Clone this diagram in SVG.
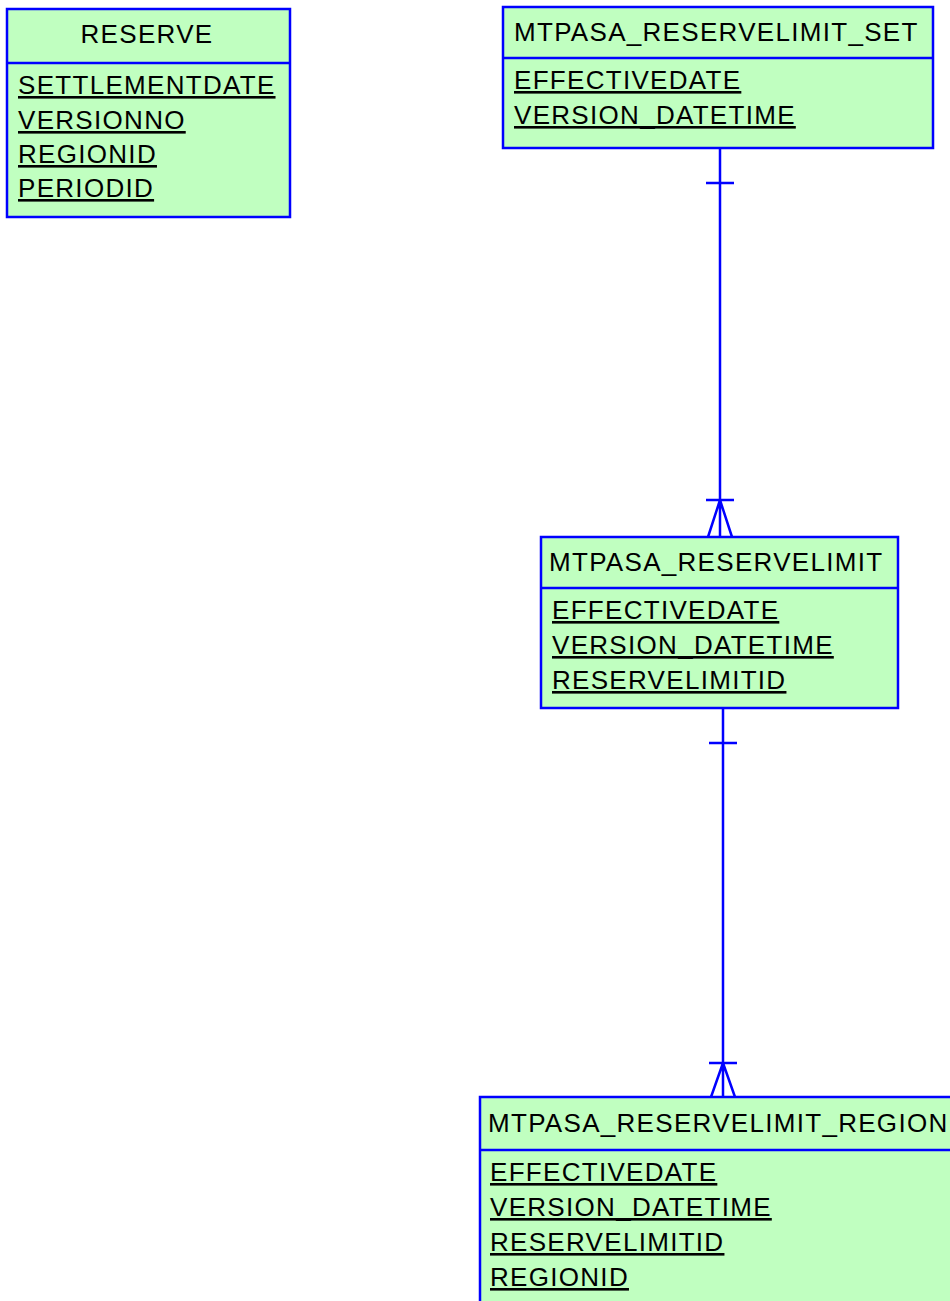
<svg xmlns="http://www.w3.org/2000/svg" width="950" height="1301" viewBox="0 0 950 1301">
<style>
.box{fill:#c0ffc0;stroke:#0000ff;stroke-width:2.5}
.div{stroke:#0000ff;stroke-width:2.5}
.t{font-family:"Liberation Sans",Arial,sans-serif;font-size:26px;fill:#000;letter-spacing:1.3px}
.a{text-decoration:underline}
.c{stroke:#0000ff;stroke-width:2.5;fill:none}
</style>
<rect width="950" height="1301" fill="#fff"/>
<g id="connectors">
<path class="c" d="M720 148V537M706 183H734M706 500H734M720 500L708 537M720 500L732 537"/>
<path class="c" d="M723 708V1097M709 743H737M709 1063H737M723 1063L711 1097M723 1063L735 1097"/>
</g>
<g id="RESERVE">
<rect class="box" x="7" y="9" width="283" height="208"/>
<line class="div" x1="7" y1="63" x2="290" y2="63"/>
<text class="t" x="147" y="43" text-anchor="middle">RESERVE</text>
<text class="t a" x="18" y="94">SETTLEMENTDATE</text>
<text class="t a" x="18" y="129">VERSIONNO</text>
<text class="t a" x="18" y="163">REGIONID</text>
<text class="t a" x="18" y="197">PERIODID</text>
</g>
<g id="MTPASA_RESERVELIMIT_SET">
<rect class="box" x="503" y="7" width="430" height="141"/>
<line class="div" x1="503" y1="58" x2="933" y2="58"/>
<text class="t" x="514" y="41">MTPASA_RESERVELIMIT_SET</text>
<text class="t a" x="514" y="89">EFFECTIVEDATE</text>
<text class="t a" x="514" y="124">VERSION_DATETIME</text>
</g>
<g id="MTPASA_RESERVELIMIT">
<rect class="box" x="541" y="537" width="357" height="171"/>
<line class="div" x1="541" y1="588" x2="898" y2="588"/>
<text class="t" x="549" y="571">MTPASA_RESERVELIMIT</text>
<text class="t a" x="552" y="619">EFFECTIVEDATE</text>
<text class="t a" x="552" y="654">VERSION_DATETIME</text>
<text class="t a" x="552" y="689">RESERVELIMITID</text>
</g>
<g id="MTPASA_RESERVELIMIT_REGION">
<rect class="box" x="480" y="1097" width="480" height="220"/>
<line class="div" x1="480" y1="1150" x2="960" y2="1150"/>
<text class="t" x="488" y="1132">MTPASA_RESERVELIMIT_REGION</text>
<text class="t a" x="490" y="1181">EFFECTIVEDATE</text>
<text class="t a" x="490" y="1216">VERSION_DATETIME</text>
<text class="t a" x="490" y="1251">RESERVELIMITID</text>
<text class="t a" x="490" y="1286">REGIONID</text>
</g>
</svg>
